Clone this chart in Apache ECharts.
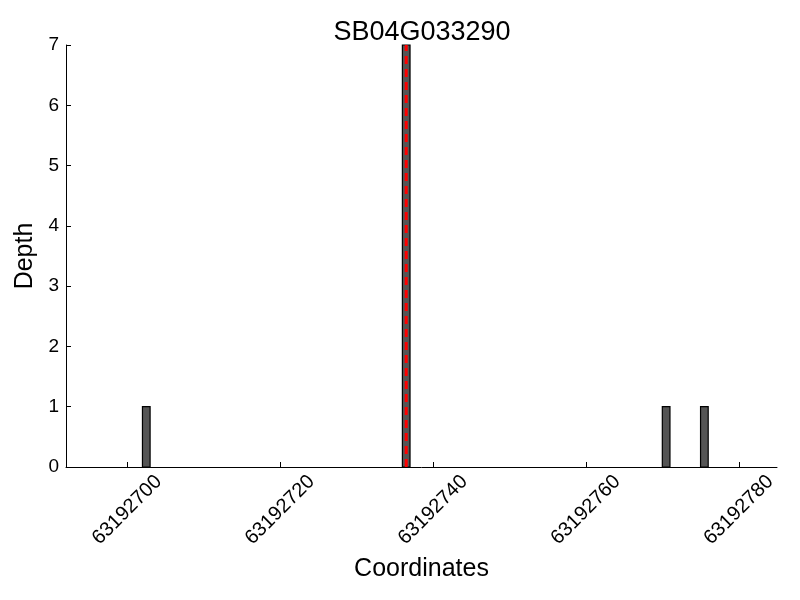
<!DOCTYPE html>
<html>
<head>
<meta charset="utf-8">
<script src="https://cdn.jsdelivr.net/npm/echarts@6/dist/echarts.min.js"></script>
<style>html,body{margin:0;padding:0;background:#fff}#c{width:800px;height:600px}</style>
</head>
<body>
<div id="c"></div>
<script>
const titleText = 'SB04G033290';
const binStarts = [63192702, 63192736, 63192770, 63192775];
const binEnds = [63192703, 63192737, 63192771, 63192776];
const depths = [1, 7, 1, 1];
const markerPos = 63192736.5;
const xTicks = [63192700, 63192720, 63192740, 63192760, 63192780];

const chart = echarts.init(document.getElementById('c'));
const font = 'Liberation Sans, Arial, sans-serif';
const data = binStarts.map((s, i) => [s, binEnds[i], depths[i]]);

chart.setOption({
  animation: false,
  title: {text: titleText, left: 417, top: 14, textAlign: 'center',
    textStyle: {fontFamily: font, fontSize: 27, fontWeight: 'normal', color: '#000'}},
  grid: {left: 66, right: 23, top: 45, bottom: 133, containLabel: false, outerBoundsMode: 'none'},
  xAxis: {
    type: 'value', min: 63192692.0, max: 63192785.0,
    name: 'Coordinates', nameLocation: 'middle', nameGap: 90,
    nameTextStyle: {fontFamily: font, fontSize: 25, color: '#000'},
    axisLine: {show: true, lineStyle: {color: '#000', width: 1}},
    axisTick: {show: true, inside: true, length: 5, lineStyle: {color: '#000'}, customValues: xTicks},
    axisLabel: {rotate: 45, fontFamily: font, fontSize: 20, color: '#000', margin: 43,
      align: 'center', verticalAlign: 'middle',
      customValues: xTicks, formatter: v => String(v)},
    splitLine: {show: false}
  },
  yAxis: {
    type: 'value', min: 0, max: 7, interval: 1,
    name: 'Depth', nameLocation: 'middle', nameGap: 27,
    nameTextStyle: {fontFamily: font, fontSize: 25, color: '#000'},
    axisLine: {show: true, lineStyle: {color: '#000', width: 1}},
    axisTick: {show: true, inside: true, length: 5, lineStyle: {color: '#000'}},
    axisLabel: {fontFamily: font, fontSize: 19, color: '#000', margin: 7},
    splitLine: {show: false}
  },
  series: [{
    type: 'custom',
    data: data,
    encode: {x: [0, 1], y: 2},
    renderItem: function (params, api) {
      const p0 = api.coord([api.value(0), api.value(2)]);
      const p1 = api.coord([api.value(1), 0]);
      return {
        type: 'rect',
        shape: {x: p0[0], y: p0[1], width: p1[0] - p0[0], height: p1[1] - p0[1]},
        style: {fill: '#555555', stroke: '#000', lineWidth: 1.2}
      };
    },
    z: 2
  }, {
    type: 'line',
    data: [[markerPos, 0], [markerPos, 7]],
    symbol: 'none',
    lineStyle: {color: '#ff0000', width: 3, type: [8, 5]},
    z: 5
  }]
});
</script>
</body>
</html>
